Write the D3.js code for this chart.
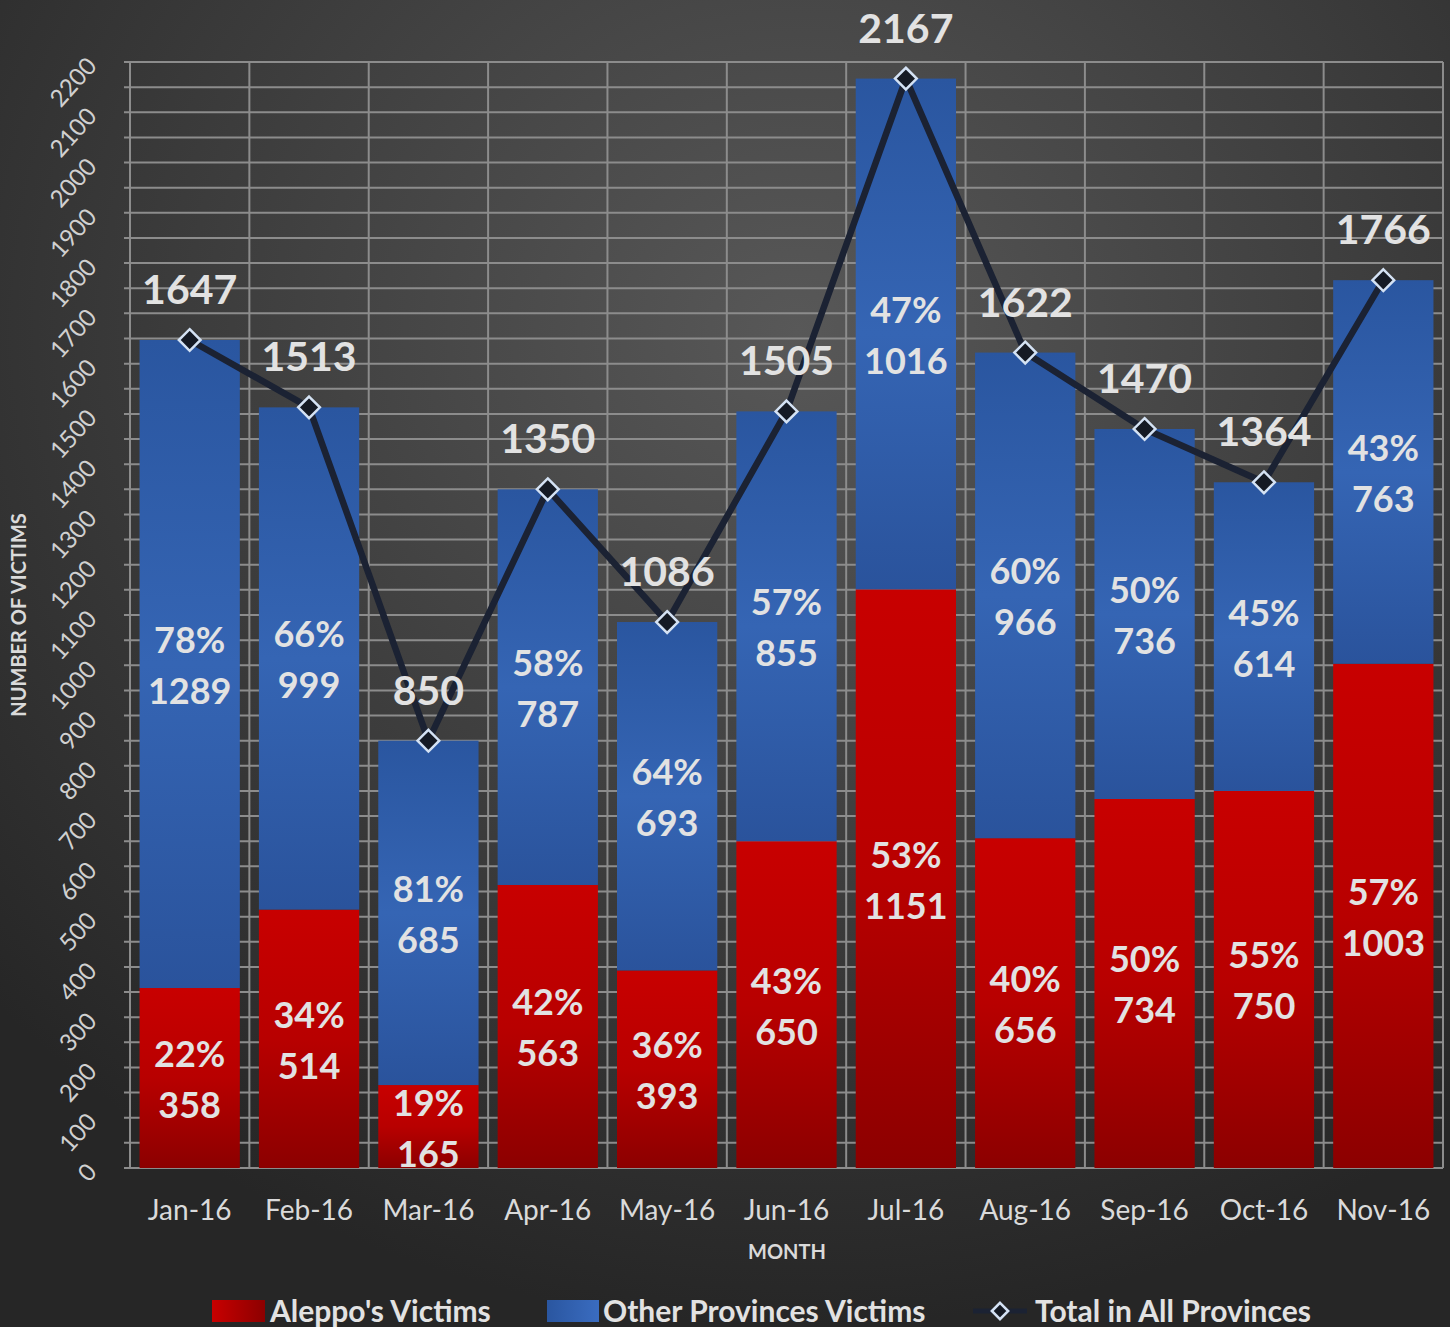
<!DOCTYPE html>
<html>
<head>
<meta charset="utf-8">
<script src="https://cdn.jsdelivr.net/npm/d3@7"></script>
<style>
  html, body { margin: 0; padding: 0; background: #2b2b2b; }
  svg { display: block; }
</style>
</head>
<body>
<div id="chart"></div>
<script>
// data
const months = ["Jan-16", "Feb-16", "Mar-16", "Apr-16", "May-16", "Jun-16", "Jul-16", "Aug-16", "Sep-16", "Oct-16", "Nov-16"];
const aleppo = [358, 514, 165, 563, 393, 650, 1151, 656, 734, 750, 1003];
const others = [1289, 999, 685, 787, 693, 855, 1016, 966, 736, 614, 763];
const totals = [1647, 1513, 850, 1350, 1086, 1505, 2167, 1622, 1470, 1364, 1766];
const aleppoPct = ["22%", "34%", "19%", "42%", "36%", "43%", "53%", "40%", "50%", "55%", "57%"];
const othersPct = ["78%", "66%", "81%", "58%", "64%", "57%", "47%", "60%", "50%", "45%", "43%"];
const yTicks = d3.range(0, 2201, 100);

const width = 1450;
const height = 1327;
const margin = { top: 62, right: 7, bottom: 159, left: 130 };
const font = "Lato, 'Open Sans', sans-serif";
const txt = "#e2e2e2";

const x = d3.scaleBand()
    .domain(months)
    .range([margin.left, width - margin.right])
    .paddingInner(0.16)
    .paddingOuter(0.08);

const y = d3.scaleLinear()
    .domain([0, 2200])
    .range([height - margin.bottom, margin.top]);

const svg = d3.select("#chart").append("svg")
    .attr("width", width)
    .attr("height", height)
    .style("font-family", font);

// gradients
const defs = svg.append("defs");
const bg = defs.append("radialGradient").attr("id", "bg")
    .attr("cx", "55%").attr("cy", "25%").attr("r", "75%");
bg.append("stop").attr("offset", "0%").attr("stop-color", "#585858");
bg.append("stop").attr("offset", "100%").attr("stop-color", "#262626");

const red = defs.append("linearGradient").attr("id", "red")
    .attr("x1", 0).attr("y1", 0).attr("x2", 0).attr("y2", 1);
red.append("stop").attr("offset", "0%").attr("stop-color", "#c80000");
red.append("stop").attr("offset", "50%").attr("stop-color", "#b80000");
red.append("stop").attr("offset", "100%").attr("stop-color", "#8c0000");

const blue = defs.append("linearGradient").attr("id", "blue")
    .attr("x1", 0).attr("y1", 0).attr("x2", 0).attr("y2", 1);
blue.append("stop").attr("offset", "0%").attr("stop-color", "#2a56a0");
blue.append("stop").attr("offset", "50%").attr("stop-color", "#3565b4");
blue.append("stop").attr("offset", "100%").attr("stop-color", "#2a539c");

const redH = defs.append("linearGradient").attr("id", "redH");
redH.append("stop").attr("offset", "0%").attr("stop-color", "#c80000");
redH.append("stop").attr("offset", "100%").attr("stop-color", "#8c0000");
const blueH = defs.append("linearGradient").attr("id", "blueH");
blueH.append("stop").attr("offset", "0%").attr("stop-color", "#2a56a0");
blueH.append("stop").attr("offset", "100%").attr("stop-color", "#3a6cc0");

svg.append("rect").attr("width", width).attr("height", height).attr("fill", "url(#bg)");

// grid
const grid = svg.append("g").attr("stroke", "#8c8c8c").attr("stroke-width", 2);
grid.selectAll("line.h")
    .data(d3.range(0, 2201, 50))
    .join("line")
    .attr("x1", margin.left - 6)
    .attr("x2", width - margin.right)
    .attr("y1", d => y(d))
    .attr("y2", d => y(d));
grid.selectAll("line.v")
    .data(d3.range(months.length + 1))
    .join("line")
    .attr("x1", i => margin.left + i * x.step())
    .attr("x2", i => margin.left + i * x.step())
    .attr("y1", y(2200))
    .attr("y2", y(0));

// y tick labels (rotated)
svg.append("g")
    .selectAll("text")
    .data(yTicks)
    .join("text")
    .attr("transform", d => `translate(98,${y(d) + 5}) rotate(-48)`)
    .attr("text-anchor", "end")
    .attr("fill", "#d0d0d0")
    .attr("font-size", 24)
    .text(d => d);

// bars
const bars = svg.append("g");
bars.selectAll("rect.a")
    .data(months)
    .join("rect")
    .attr("x", d => x(d))
    .attr("width", x.bandwidth())
    .attr("y", (d, i) => y(aleppo[i]))
    .attr("height", (d, i) => y(0) - y(aleppo[i]))
    .attr("fill", "url(#red)");
bars.selectAll("rect.o")
    .data(months)
    .join("rect")
    .attr("class", "o")
    .attr("x", d => x(d))
    .attr("width", x.bandwidth())
    .attr("y", (d, i) => y(aleppo[i] + others[i]))
    .attr("height", (d, i) => y(aleppo[i]) - y(aleppo[i] + others[i]))
    .attr("fill", "url(#blue)");

// segment labels
function segLabels(cls, mid, pct, val) {
    const g = svg.append("g")
        .attr("fill", txt)
        .attr("font-size", 36)
        .attr("font-weight", 700)
        .attr("text-anchor", "middle");
    g.selectAll("text.p" + cls)
        .data(months)
        .join("text")
        .attr("x", d => x(d) + x.bandwidth() / 2)
        .attr("y", (d, i) => y(mid(i)) - 11)
        .text((d, i) => pct[i]);
    g.selectAll("text.v" + cls)
        .data(months)
        .join("text")
        .attr("class", "v" + cls)
        .attr("x", d => x(d) + x.bandwidth() / 2)
        .attr("y", (d, i) => y(mid(i)) + 40)
        .text((d, i) => val[i]);
}
segLabels("a", i => aleppo[i] / 2, aleppoPct, aleppo);
segLabels("o", i => aleppo[i] + others[i] / 2, othersPct, others);

// total line
const cx = d => x(d) + x.bandwidth() / 2;
const line = d3.line()
    .x((d, i) => cx(months[i]))
    .y(d => y(d));
svg.append("path")
    .datum(totals)
    .attr("d", line)
    .attr("fill", "none")
    .attr("stroke", "#1b2233")
    .attr("stroke-width", 6.5)
    .attr("stroke-linejoin", "round");

svg.append("g")
    .selectAll("path")
    .data(totals)
    .join("path")
    .attr("transform", (d, i) => `translate(${cx(months[i])},${y(d)})`)
    .attr("d", d3.symbol(d3.symbolDiamond2, 300))
    .attr("fill", "#151a24")
    .attr("stroke", "#d4e2f4")
    .attr("stroke-width", 2.5);

// total labels
svg.append("g")
    .selectAll("text")
    .data(totals)
    .join("text")
    .attr("x", (d, i) => cx(months[i]))
    .attr("y", d => y(d) - 36)
    .attr("text-anchor", "middle")
    .attr("fill", txt)
    .attr("font-size", 41)
    .attr("font-weight", 700)
    .text(d => d);

// x labels
svg.append("g")
    .selectAll("text")
    .data(months)
    .join("text")
    .attr("x", d => cx(d))
    .attr("y", 1220)
    .attr("text-anchor", "middle")
    .attr("fill", "#dadada")
    .attr("font-size", 28)
    .text(d => d);

// axis titles
svg.append("text")
    .attr("x", 787).attr("y", 1259)
    .attr("text-anchor", "middle")
    .attr("fill", "#dadada")
    .attr("font-size", 20)
    .attr("font-weight", 700)
    .text("MONTH");

svg.append("text")
    .attr("transform", "translate(26,615) rotate(-90)")
    .attr("text-anchor", "middle")
    .attr("fill", "#dadada")
    .attr("font-size", 20)
    .attr("font-weight", 700)
    .text("NUMBER OF VICTIMS");

// legend
const legend = svg.append("g")
    .attr("font-size", 30)
    .attr("font-weight", 700)
    .attr("fill", txt);
legend.append("rect").attr("x", 212).attr("y", 1300).attr("width", 53).attr("height", 22).attr("fill", "url(#redH)");
legend.append("text").attr("x", 270).attr("y", 1322).text("Aleppo's Victims");
legend.append("rect").attr("x", 547).attr("y", 1300).attr("width", 52).attr("height", 22).attr("fill", "url(#blueH)");
legend.append("text").attr("x", 603).attr("y", 1322).text("Other Provinces Victims");
legend.append("line").attr("x1", 973).attr("x2", 1027).attr("y1", 1311).attr("y2", 1311)
    .attr("stroke", "#1b2233").attr("stroke-width", 5);
legend.append("path")
    .attr("transform", "translate(1000,1311)")
    .attr("d", d3.symbol(d3.symbolDiamond2, 170))
    .attr("fill", "#151a24")
    .attr("stroke", "#d4e2f4")
    .attr("stroke-width", 2.5);
legend.append("text").attr("x", 1035).attr("y", 1322).text("Total in All Provinces");
</script>
</body>
</html>
